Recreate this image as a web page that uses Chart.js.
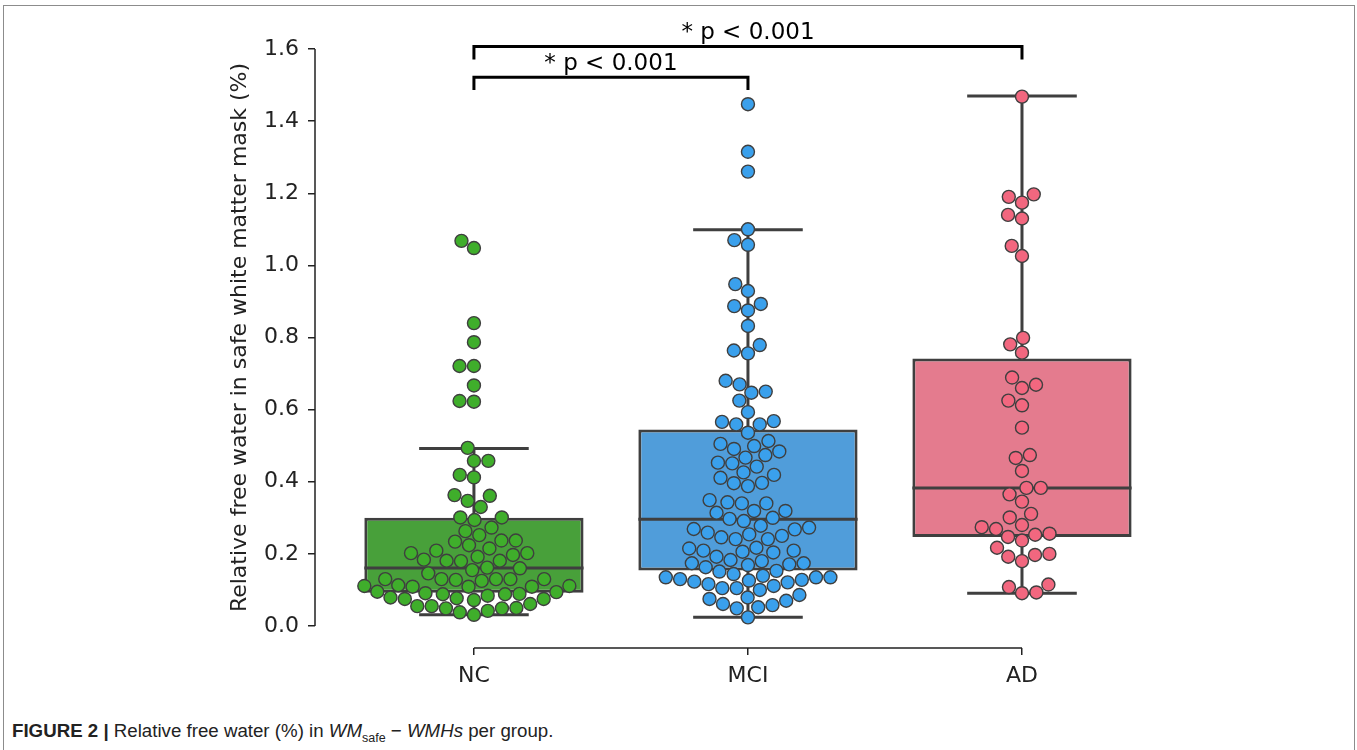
<!DOCTYPE html>
<html>
<head>
<meta charset="utf-8">
<script src="https://cdn.jsdelivr.net/npm/chart.js@4.4.1/dist/chart.umd.min.js"></script>
<style>
  html, body { margin: 0; padding: 0; background: #fff; }
  #wrap { position: relative; width: 1357px; height: 750px; overflow: hidden; }
  #frame { position: absolute; left: 3px; top: 5px; width: 1352px; height: 800px; border: 1.5px solid #8c8c8c; box-sizing: border-box; }
  #c { position: absolute; left: 0; top: 0; }
  #caption { position: absolute; left: 12px; top: 720px; font-family: 'Liberation Sans', Arial, sans-serif; font-size: 18.7px; color: #222; white-space: nowrap; }
  #caption sub { font-size: 12.5px; }
</style>
</head>
<body>
<div id="wrap">
  <div id="frame"></div>
  <canvas id="c" width="1357" height="712"></canvas>
  <div id="caption"><b>FIGURE 2 |</b> Relative free water (%) in <i>WM</i><sub>safe</sub> &minus; <i>WMHs</i> per group.</div>
</div>
<script>
// groups and tick labels
var categories = ['NC', 'MCI', 'AD'];
var yTicks = [0.0, 0.2, 0.4, 0.6, 0.8, 1.0, 1.2, 1.4, 1.6];

// individual subjects (relative free water, %)
var ncValues = [1.068, 1.048, 0.840, 0.787, 0.721, 0.721, 0.667, 0.624, 0.622,
  0.494, 0.458, 0.458, 0.419, 0.412, 0.363, 0.361, 0.347, 0.330,
  0.301, 0.301, 0.294, 0.273, 0.263, 0.252, 0.237, 0.237, 0.234, 0.224, 0.215, 0.209, 0.202, 0.202, 0.197, 0.192, 0.184, 0.181, 0.181, 0.180,
  0.162, 0.160, 0.155, 0.146, 0.130, 0.130, 0.130, 0.130, 0.130, 0.128, 0.125,
  0.113, 0.111, 0.111, 0.109, 0.109, 0.109, 0.095, 0.094, 0.091, 0.089, 0.088, 0.088, 0.084,
  0.079, 0.077, 0.075, 0.075, 0.072, 0.061, 0.055, 0.055, 0.050, 0.049, 0.049, 0.042, 0.038, 0.031];
var mciValues = [1.447, 1.315, 1.260, 1.100, 1.070, 1.057, 0.948, 0.929, 0.893, 0.887, 0.875, 0.832, 0.779, 0.764, 0.756,
  0.680, 0.670, 0.650, 0.647, 0.625, 0.593, 0.568, 0.566, 0.559, 0.559,
  0.536, 0.513, 0.505, 0.499, 0.491, 0.484, 0.474, 0.467, 0.453, 0.451, 0.442, 0.426, 0.419, 0.411, 0.397, 0.396, 0.388,
  0.349, 0.343, 0.340, 0.340, 0.319, 0.319, 0.314, 0.300, 0.297, 0.291,
  0.278, 0.273, 0.269, 0.268, 0.259, 0.254, 0.250, 0.246, 0.241, 0.241,
  0.217, 0.215, 0.209, 0.209, 0.206, 0.204, 0.192, 0.183, 0.180, 0.174, 0.174, 0.171, 0.169, 0.163, 0.151,
  0.153, 0.144, 0.139, 0.135, 0.135, 0.135, 0.130, 0.128, 0.126, 0.123, 0.121, 0.116, 0.111, 0.105, 0.105, 0.100,
  0.086, 0.079, 0.075, 0.070, 0.061, 0.058, 0.052, 0.049, 0.024];
var adValues = [1.468, 1.197, 1.190, 1.174, 1.140, 1.130, 1.054, 1.026, 0.799, 0.781, 0.758,
  0.689, 0.669, 0.660, 0.625, 0.612, 0.550, 0.474, 0.466, 0.430, 0.383, 0.383, 0.365, 0.345,
  0.311, 0.301, 0.280, 0.274, 0.269, 0.256, 0.253, 0.247, 0.237, 0.217, 0.200, 0.197, 0.192, 0.180,
  0.115, 0.108, 0.093, 0.091];

// box summaries per group
var whiskerLow = [0.031, 0.024, 0.091];
var q1 = [0.092, 0.154, 0.247];
var median = [0.161, 0.296, 0.383];
var q3 = [0.300, 0.545, 0.742];
var whiskerHigh = [0.492, 1.099, 1.470];

// significance brackets
var sigFrom = [0, 0];
var sigTo = [1, 2];
var sigLevel = [1.522, 1.607];
var sigLabels = ['* p < 0.001', '* p < 0.001'];

var boxColors = ['#48a03a', '#509dda', '#e47b8e'];
var pointColors = ['#3fae2b', '#3aa0ec', '#f2677f'];
var edge = '#3f3f3f';
var FONT = "'DejaVu Sans', sans-serif";
var POINT_R = 6.5, POINT_BW = 1.4;
var SWARM_GAP = 14.4;
var BOX_WIDTH = 0.8;

var groups = [ncValues, mciValues, adValues];

var boxPlugin = {
  id: 'boxes',
  afterDatasetDraw: function (chart, args) {
    if (args.index !== 0) return;
    var ctx = chart.ctx, xs = chart.scales.x, ys = chart.scales.y;
    ctx.save();
    ctx.strokeStyle = edge;
    ctx.lineWidth = 3;
    ctx.lineCap = 'butt';
    for (var i = 0; i < categories.length; i++) {
      var cx = xs.getPixelForValue(i);
      var bl = xs.getPixelForValue(i - BOX_WIDTH / 2), br = xs.getPixelForValue(i + BOX_WIDTH / 2);
      var cl = xs.getPixelForValue(i - BOX_WIDTH / 4), cr = xs.getPixelForValue(i + BOX_WIDTH / 4);
      ctx.beginPath();
      ctx.moveTo(bl, ys.getPixelForValue(median[i]));
      ctx.lineTo(br, ys.getPixelForValue(median[i]));
      ctx.moveTo(cx, ys.getPixelForValue(q3[i]));
      ctx.lineTo(cx, ys.getPixelForValue(whiskerHigh[i]));
      ctx.moveTo(cx, ys.getPixelForValue(q1[i]));
      ctx.lineTo(cx, ys.getPixelForValue(whiskerLow[i]));
      ctx.moveTo(cl, ys.getPixelForValue(whiskerHigh[i]));
      ctx.lineTo(cr, ys.getPixelForValue(whiskerHigh[i]));
      ctx.moveTo(cl, ys.getPixelForValue(whiskerLow[i]));
      ctx.lineTo(cr, ys.getPixelForValue(whiskerLow[i]));
      ctx.stroke();
    }
    ctx.restore();
  },
  afterDraw: function (chart) {
    var ctx = chart.ctx, xs = chart.scales.x, ys = chart.scales.y, area = chart.chartArea;
    ctx.save();
    // trimmed axis lines
    ctx.strokeStyle = '#222';
    ctx.lineWidth = 1.5;
    ctx.beginPath();
    ctx.moveTo(area.left, ys.getPixelForValue(yTicks[0]));
    ctx.lineTo(area.left, ys.getPixelForValue(yTicks[yTicks.length - 1]));
    ctx.moveTo(xs.getPixelForValue(0), area.bottom);
    ctx.lineTo(xs.getPixelForValue(categories.length - 1), area.bottom);
    ctx.stroke();

    // y title
    ctx.fillStyle = '#222';
    ctx.font = '22px ' + FONT;
    ctx.textAlign = 'center';
    ctx.textBaseline = 'middle';
    ctx.translate(area.left - 75, (ys.getPixelForValue(0) + ys.getPixelForValue(1.6)) / 2);
    ctx.rotate(-Math.PI / 2);
    ctx.fillText('Relative free water in safe white matter mask (%)', 0, 0);
    ctx.restore();

    // significance brackets
    ctx.save();
    ctx.strokeStyle = '#000';
    ctx.fillStyle = '#000';
    ctx.lineWidth = 3;
    ctx.font = '23px ' + FONT;
    ctx.textAlign = 'center';
    ctx.textBaseline = 'alphabetic';
    for (var k = 0; k < sigFrom.length; k++) {
      var x1 = xs.getPixelForValue(sigFrom[k]), x2 = xs.getPixelForValue(sigTo[k]);
      var yl = ys.getPixelForValue(sigLevel[k]), yd = ys.getPixelForValue(sigLevel[k] - 0.036);
      ctx.beginPath();
      ctx.moveTo(x1, yd);
      ctx.lineTo(x1, yl);
      ctx.lineTo(x2, yl);
      ctx.lineTo(x2, yd);
      ctx.stroke();
      ctx.fillText(sigLabels[k], (x1 + x2) / 2, yl - 7);
    }
    ctx.restore();
  }
};

var datasets = [{
  type: 'bar',
  data: categories.map(function (c, i) { return { x: i, y: [q1[i], q3[i]] }; }),
  backgroundColor: boxColors,
  borderColor: edge,
  borderWidth: 3,
  borderSkipped: false,
  barPercentage: 1,
  categoryPercentage: BOX_WIDTH,
  order: 10
}];
groups.forEach(function (vals, g) {
  datasets.push({
    type: 'scatter',
    data: vals.map(function (v) { return { x: g, y: v }; }),
    backgroundColor: pointColors[g],
    borderColor: edge,
    borderWidth: POINT_BW,
    pointRadius: POINT_R,
    order: 0
  });
});

var tickFont = { family: FONT, size: 22 };

var chart = new Chart(document.getElementById('c'), {
  type: 'scatter',
  data: { datasets: datasets },
  options: {
    responsive: false,
    animation: false,
    layout: { padding: { left: 0, right: 198, top: 49, bottom: 0 } },
    plugins: { legend: { display: false }, tooltip: { enabled: false } },
    scales: {
      x: {
        type: 'linear', min: -0.58, max: 2.5, offset: false,
        afterFit: function (s) { s.height = 64; },
        afterBuildTicks: function (s) { s.ticks = categories.map(function (c, i) { return { value: i }; }); },
        ticks: {
          callback: function (v) { return categories[Math.round(v)]; },
          font: tickFont, color: '#222', padding: 8, autoSkip: false, maxRotation: 0
        },
        grid: { offset: false, drawOnChartArea: false, drawTicks: true, tickLength: 7, color: '#222', lineWidth: 1.5 },
        border: { display: false }
      },
      y: {
        min: -0.061, max: 1.6,
        afterFit: function (s) { s.width = 315; },
        afterBuildTicks: function (s) { s.ticks = yTicks.map(function (v) { return { value: v }; }); },
        ticks: {
          callback: function (v) { return v.toFixed(1); },
          font: tickFont, color: '#222', padding: 9
        },
        grid: { drawOnChartArea: false, drawTicks: true, tickLength: 7, color: '#222', lineWidth: 1.5 },
        border: { display: false }
      }
    }
  },
  plugins: [boxPlugin]
});

// beeswarm placement in pixel space, the way seaborn's swarmplot does it
function swarm(values, center) {
  var xs = chart.scales.x, ys = chart.scales.y;
  var d = SWARM_GAP;
  var cx = xs.getPixelForValue(center);
  var half = xs.getPixelForValue(center + BOX_WIDTH / 2) - cx;
  var order = values.map(function (v, i) { return i; });
  order.sort(function (a, b) { return values[a] - values[b]; });
  var placed = [];
  var out = [];
  order.forEach(function (i) {
    var py = ys.getPixelForValue(values[i]);
    var near = placed.filter(function (p) { return Math.abs(p.y - py) < d; });
    var cands = [cx];
    near.forEach(function (p) {
      var dx = Math.sqrt(d * d - (p.y - py) * (p.y - py));
      cands.push(p.x - dx, p.x + dx);
    });
    cands.sort(function (a, b) { return Math.abs(a - cx) - Math.abs(b - cx); });
    var px = cx;
    for (var c = 0; c < cands.length; c++) {
      var ok = near.every(function (p) {
        return (p.x - cands[c]) * (p.x - cands[c]) + (p.y - py) * (p.y - py) >= d * d - 0.01;
      });
      if (ok) { px = cands[c]; break; }
    }
    placed.push({ x: px, y: py });
    out[i] = xs.getValueForPixel(Math.max(cx - half, Math.min(cx + half, px)));
  });
  return out;
}

groups.forEach(function (vals, g) {
  var xsVals = swarm(vals, g);
  chart.data.datasets[g + 1].data = vals.map(function (v, i) { return { x: xsVals[i], y: v }; });
});
chart.update('none');
</script>
</body>
</html>
